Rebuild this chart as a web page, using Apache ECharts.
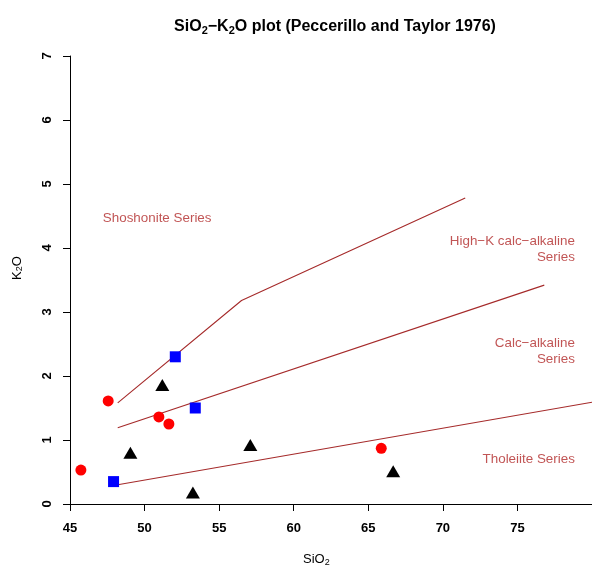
<!DOCTYPE html>
<html>
<head>
<meta charset="utf-8">
<script src="https://cdn.jsdelivr.net/npm/echarts@6/dist/echarts.min.js"></script>
<style>
  html, body { margin: 0; padding: 0; background: #fff; }
  #chart { width: 592px; height: 569px; }
</style>
</head>
<body>
<div id="chart"></div>
<script>
// Sample analyses (SiO2 wt%, K2O wt%)
const redCircles = [[45.73, 0.53], [47.56, 1.61], [50.96, 1.36], [51.63, 1.25], [65.87, 0.87]];
const blueSquares = [[52.06, 2.30], [53.40, 1.50], [47.92, 0.35]];
const blackTriangles = [[51.19, 1.86], [49.05, 0.80], [53.24, 0.18], [57.09, 0.92], [66.67, 0.51]];

// Series boundaries of the Peccerillo & Taylor (1976) diagram
const shoshoniteLine = [[48.2, 1.58], [56.5, 3.18], [71.5, 4.78]];
const highKLine = [[48.2, 1.19], [76.8, 3.42]];
const tholeiiteLine = [[48.2, 0.30], [80, 1.59]];

// Field names and their anchor points
const fieldLabelsLeft = [{ value: [47.2, 4.47], text: 'Shoshonite Series' }];
const fieldLabelsRight = [
  { value: [78.85, 3.98], text: 'High\u2212K calc\u2212alkaline\nSeries' },
  { value: [78.85, 2.39], text: 'Calc\u2212alkaline\nSeries' },
  { value: [78.85, 0.70], text: 'Tholeiite Series' }
];

const xTicks = { min: 45, max: 80, interval: 5 };
const yTicks = { min: 0, max: 7, interval: 1 };

const FONT = 'Liberation Sans, Arial, sans-serif';
const BOUND = '#A52A2A';
const FIELD_TEXT = '#B22A2A';

const chart = echarts.init(document.getElementById('chart'), null, { renderer: 'canvas' });

function boundary(data) {
  return {
    type: 'line', data: data, symbol: 'none', silent: true,
    lineStyle: { color: BOUND, width: 1.1 }, z: 2
  };
}

chart.setOption({
  animation: false,
  backgroundColor: '#ffffff',
  textStyle: { fontFamily: FONT },
  title: {
    text: 'SiO{s|2}\u2212K{s|2}O plot (Peccerillo and Taylor 1976)',
    left: 330, top: 12, textAlign: 'center',
    textStyle: {
      fontFamily: FONT, fontSize: 16, fontWeight: 'bold', color: '#000',
      rich: { s: { fontFamily: FONT, fontSize: 11, fontWeight: 'bold', padding: [8, 0, 0, 0], color: '#000' } }
    }
  },
  grid: { left: 70, top: 56, bottom: 65, right: -2, containLabel: false },
  xAxis: {
    type: 'value', min: xTicks.min, max: xTicks.max, interval: xTicks.interval,
    splitLine: { show: false },
    axisLine: { show: true, onZero: false, lineStyle: { color: '#000', width: 1 } },
    axisTick: { show: true, length: 7, lineStyle: { color: '#000' } },
    axisLabel: { margin: 18, color: '#000', fontSize: 13, fontWeight: 'bold', fontFamily: FONT, showMaxLabel: false }
  },
  yAxis: {
    type: 'value', min: yTicks.min, max: yTicks.max, interval: yTicks.interval,
    splitLine: { show: false },
    axisLine: { show: true, onZero: false, lineStyle: { color: '#000', width: 1 } },
    axisTick: { show: true, length: 7, lineStyle: { color: '#000' } },
    axisLabel: { margin: 16, rotate: 90, color: '#000', fontSize: 13, fontWeight: 'bold', fontFamily: FONT }
  },
  graphic: [
    {
      type: 'text', left: 303, top: 553,
      style: {
        text: 'SiO{s|2}', fill: '#000', font: '13px ' + FONT,
        rich: { s: { fontSize: 9, padding: [6, 0, 0, 0], fontFamily: FONT } }
      }
    },
    {
      type: 'text', x: 17, y: 268, rotation: Math.PI / 2,
      style: {
        text: 'K{s|2}O', fill: '#000', font: '13px ' + FONT,
        align: 'center', verticalAlign: 'middle',
        rich: { s: { fontSize: 9, padding: [6, 0, 0, 0], fontFamily: FONT } }
      }
    }
  ],
  series: [
    boundary(shoshoniteLine),
    boundary(highKLine),
    boundary(tholeiiteLine),
    {
      type: 'scatter', data: redCircles, symbol: 'circle', symbolSize: 11,
      itemStyle: { color: '#FF0000', opacity: 1 }, z: 3
    },
    {
      type: 'scatter', data: blueSquares, symbol: 'rect', symbolSize: 11,
      itemStyle: { color: '#0000FF', opacity: 1 }, z: 3
    },
    {
      type: 'scatter', data: blackTriangles, symbol: 'triangle', symbolSize: [14, 12],
      itemStyle: { color: '#000000', opacity: 1 }, z: 3
    },
    {
      type: 'scatter', symbolSize: 0, silent: true, z: 4,
      data: fieldLabelsLeft.map(d => ({ value: d.value, text: d.text })),
      label: {
        show: true, position: 'right', distance: 0,
        formatter: p => p.data.text,
        color: FIELD_TEXT, fontSize: 13.4, fontFamily: FONT, align: 'left', lineHeight: 16
      }
    },
    {
      type: 'scatter', symbolSize: 0, silent: true, z: 4,
      data: fieldLabelsRight.map(d => ({ value: d.value, text: d.text })),
      label: {
        show: true, position: 'left', distance: 0,
        formatter: p => p.data.text,
        color: FIELD_TEXT, fontSize: 13.4, fontFamily: FONT, align: 'right', lineHeight: 16
      }
    }
  ]
});
</script>
</body>
</html>
